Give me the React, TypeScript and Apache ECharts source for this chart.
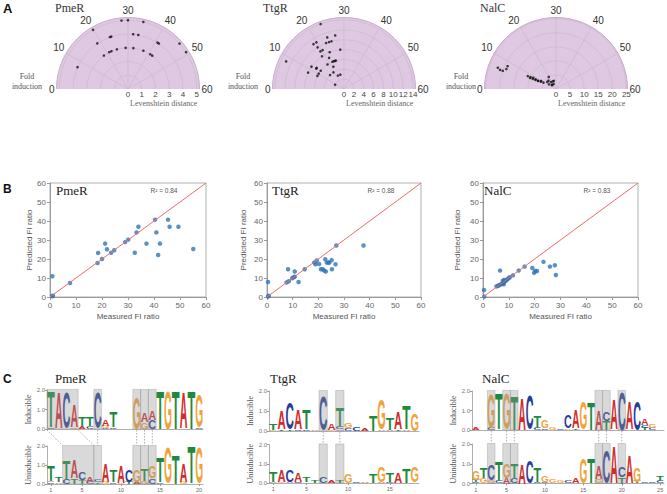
import React, { useEffect, useRef } from 'react';
import * as echarts from 'echarts';

const SERIF = '"Liberation Serif", "Times New Roman", serif';
const SANS = '"Liberation Sans", Arial, sans-serif';

// ---------- A: polar plots, [fold induction, Levenshtein distance]
const panelNames = ['PmeR', 'TtgR', 'NalC'];
const pmePolar = [[28.2, 5], [30, 5], [34.3, 5], [19.8, 5], [46.2, 5], [49.2, 5], [18.7, 4], [7.8, 4], [23.6, 4], [24.1, 4], [31.8, 4], [33.6, 4], [40.8, 4], [41.4, 4], [18.1, 3], [21, 3], [22.1, 3], [24.8, 3], [28.9, 3], [32.5, 3], [37.3, 3], [40.9, 3], [42, 3]];
const ttgPolar = [[23.4, 14], [8.5, 13], [26.9, 11], [24, 11], [19.8, 11], [18.6, 11], [22.9, 10], [24.1, 10], [25.1, 10], [19.2, 10], [19.3, 9], [20.4, 9], [28.2, 8], [22.9, 8], [18.7, 8], [21.5, 7], [24.1, 6], [23.3, 6], [24.7, 6], [22.3, 6], [18.7, 6], [11.5, 8], [12.1, 7], [12.6, 7], [8.2, 8], [12.7, 6], [10.4, 6], [8.7, 6], [21.5, 5], [19.2, 4], [15, 4], [21.9, 3], [25.2, 3], [8.6, 2]];
const nalPolar = [[6.7, 22], [6.3, 21], [6.3, 20], [7.3, 19], [8.4, 19], [8.2, 11], [7.7, 10], [7.8, 9], [8, 8], [8.2, 7], [8.1, 7], [8.7, 6], [9, 5], [16.1, 4], [19.7, 5], [17.8, 3], [22.1, 3], [11.3, 3], [14.3, 2], [21.7, 2], [9.5, 6], [8.5, 8], [8.8, 9], [13, 4], [25, 3], [16, 2], [8.4, 10]];
const polarData = [pmePolar, ttgPolar, nalPolar];
const foldRange = [0, 60];
const foldStep = 10;
const distMax = [5.2, 14.5, 25.4];
const distStep = [1, 2, 5];

// ---------- B: measured vs predicted FI ratio
const pmeFit = [[0.9, 10.9], [0.9, 0.4], [1.1, 0.7], [7.7, 7.4], [18.3, 17.9], [18.5, 23.2], [20, 20], [21.2, 28.1], [21.9, 25.1], [23.5, 23.3], [24.7, 24.6], [28.9, 28.9], [30.1, 30.2], [32.6, 23.3], [33.3, 34], [34, 37], [37.1, 28.1], [40.4, 40.7], [40.9, 34], [41.6, 22.1], [42.3, 28.1], [45.4, 40.7], [46, 37], [49.4, 37], [55.1, 25.3]];
const ttgFit = [[0.4, 7.9], [0.4, 0.2], [0.7, 0.7], [7.6, 7.6], [8.2, 14.6], [8.5, 8.3], [9.8, 9.9], [10.4, 10.4], [10.8, 10.7], [10.8, 13.4], [12.3, 7.9], [14.7, 14.6], [18.4, 18.1], [18.9, 17.2], [19.4, 19.2], [20.3, 17.4], [21, 14.6], [21.7, 14.6], [22.3, 13.9], [22.7, 19.9], [22.9, 13.4], [23.3, 18.1], [23.9, 18.1], [24.3, 18.1], [25.2, 19.4], [25.3, 14.6], [26.7, 17.2], [27, 27.1], [37.6, 27.1]];
const nalFit = [[0.4, 3.7], [0.5, 0.2], [6.6, 13.9], [5.2, 5.6], [5.7, 5.8], [6.2, 6.2], [6.7, 6.5], [7.2, 6.9], [7.6, 7.2], [8, 7.4], [7.7, 8.6], [8.2, 8.1], [8.6, 8.4], [9, 8.8], [9.4, 9.3], [9.9, 9.9], [10.4, 10.4], [11.6, 11.4], [8, 6.7], [8.2, 9], [13.8, 13.9], [16.1, 16], [19.1, 15.3], [19.8, 12.7], [20.2, 13.7], [20.9, 13.7], [23.4, 18.5], [25.9, 16], [27.8, 16.7], [28.2, 11.6]];
const fitData = [pmeFit, ttgFit, nalFit];
const r2Labels = ['R² = 0.84', 'R² = 0.88', 'R² = 0.83'];
const diagonal = [[0, 0], [60, 60]];
const fitRange = [0, 60];

// ---------- C: sequence logos, columns of [letter, bits] from bottom to top
type Col = [string, number][];
const pmeInducible: Col[] = [
  [['C', 0.05], ['T', 1.85]], [['A', 1.85]], [['C', 1.8]], [['G', 0.08], ['A', 1.15]], [['A', 0.12], ['T', 0.45]],
  [['C', 0.15], ['T', 0.45]], [['C', 1.85]], [['C', 0.05], ['G', 0.1], ['A', 0.3]], [['C', 0.08], ['T', 0.8]], [['A', 0.03]],
  [['C', 0.03]], [['G', 1.6]], [['G', 0.35], ['A', 0.5]], [['C', 0.45], ['A', 0.5]], [['T', 1.95]],
  [['G', 1.95]], [['T', 1.95]], [['A', 1.85]], [['T', 1.95]], [['C', 0.08], ['G', 1.7]],
];
const pmeUninducible: Col[] = [
  [['C', 0.08], ['A', 0.08], ['T', 0.85]], [['A', 0.08], ['T', 0.25]], [['C', 0.25], ['T', 0.95]], [['T', 0.3], ['A', 0.95]], [['T', 0.2], ['C', 0.4]],
  [['C', 0.1], ['A', 0.3]], [['T', 0.08], ['C', 0.15]], [['G', 0.1], ['A', 1.0]], [['C', 0.08], ['T', 0.6]], [['G', 0.05], ['A', 0.9]],
  [['T', 0.1], ['C', 0.65]], [['A', 0.1], ['G', 0.6]], [['G', 0.15], ['T', 0.6]], [['C', 0.3], ['G', 0.6]], [['C', 0.08], ['T', 1.35]],
  [['G', 1.85]], [['T', 1.5]], [['G', 0.1], ['A', 1.0]], [['T', 1.95]], [['G', 1.85]],
];
const ttgInducible: Col[] = [
  [['G', 0.05], ['T', 0.3]], [['T', 0.08], ['A', 0.95]], [['T', 0.08], ['C', 1.3]], [['C', 0.08], ['A', 1.0]], [['C', 0.08], ['T', 1.0]],
  [['A', 0.08]], [['C', 1.75]], [['G', 0.05], ['A', 0.3]], [['A', 0.08], ['C', 0.1], ['T', 1.0]], [['C', 0.12], ['G', 0.25]],
  [['C', 0.2]], [['A', 0.1]], [['T', 0.8]], [['A', 0.08], ['G', 1.5]], [['A', 0.05], ['T', 0.6]],
  [['T', 0.08], ['A', 0.85]], [['A', 0.08], ['T', 1.2]], [['G', 0.85]],
];
const ttgUninducible: Col[] = [
  [['A', 0.05], ['T', 0.55]], [['G', 0.05], ['A', 0.6]], [['A', 0.05], ['C', 0.6]], [['C', 0.05], ['A', 0.45]], [['A', 0.03], ['T', 0.3]],
  [['T', 0.15]], [['C', 0.35]], [['A', 0.12]], [['T', 0.1]], [['G', 0.45]],
  [['C', 0.04]], [['A', 0.04]], [['T', 0.5]], [['A', 0.05], ['G', 0.85]], [['C', 0.05], ['T', 0.45]],
  [['A', 0.55]], [['T', 0.75]], [['G', 0.8]],
];
const nalInducible: Col[] = [
  [['A', 0.1]], [['C', 0.03]], [['C', 0.1], ['G', 1.75]], [['T', 1.8]], [['G', 1.85]],
  [['T', 1.75]], [['A', 1.65]], [['C', 1.75]], [['C', 0.1], ['T', 0.6]], [['C', 0.08], ['G', 0.4]],
  [['G', 0.12]], [['C', 0.05]], [['G', 0.08], ['C', 0.7]], [['T', 0.08], ['A', 0.95]], [['G', 1.4]],
  [['T', 1.4]], [['A', 1.0]], [['T', 0.45], ['C', 0.5]], [['A', 1.55]], [['C', 1.95]],
  [['A', 1.4]], [['C', 1.5]], [['T', 0.1], ['C', 0.15], ['A', 0.35]], [['C', 0.1], ['G', 0.2]], [['A', 0.02]],
];
const nalUninducible: Col[] = [
  [['C', 0.08], ['T', 0.1], ['G', 0.45]], [['G', 0.25], ['T', 0.5]], [['G', 0.15], ['C', 0.8]], [['C', 0.1], ['T', 1.0]], [['A', 0.3], ['G', 0.75]],
  [['C', 0.25], ['T', 0.75]], [['A', 1.0]], [['C', 1.15]], [['C', 0.05], ['T', 0.75]], [['C', 0.05], ['G', 0.3]],
  [['G', 0.2]], [['G', 0.15]], [['C', 0.1]], [['A', 0.25]], [['G', 1.3]],
  [['T', 1.25]], [['G', 0.2], ['A', 0.65]], [['C', 1.7]], [['A', 1.9]], [['T', 0.3], ['C', 0.55]],
  [['A', 1.4]], [['T', 0.1], ['G', 0.75]], [['C', 0.05]], [['C', 0.08]], [['C', 0.1], ['T', 0.25]],
];
const pmeTopBoxes = [[1, 4], [7, 7], [12, 12], [13, 13], [14, 14]];
const pmeBottomBoxes = [[3, 6], [7, 7], [12, 12], [13, 13], [14, 14]];
const pmeLinks = [[0.5, 2.5], [4.5, 6.5], [7, 7], [12, 12], [13, 13], [14, 14]];
const ttgBoxes = [[7, 7], [9, 9]];
const ttgLinks = [[7, 7], [9, 9]];
const nalBoxes = [[3, 3], [5, 5], [6, 6], [17, 17], [18, 18], [20, 20]];
const nalLinks = [[3, 3], [5, 5], [6, 6], [17, 17], [18, 18], [20, 20]];
const pmeTicks = [1, 5, 10, 15, 20];
const ttgTicks = [1, 5, 10, 15];
const nalTicks = [1, 5, 10, 15, 20, 25];
const bitsMax = 2;
const bitsStep = 1;

const logoSets = [
  { name: 'PmeR', top: pmeInducible, bottom: pmeUninducible, topBoxes: pmeTopBoxes, bottomBoxes: pmeBottomBoxes, links: pmeLinks, ticks: pmeTicks },
  { name: 'TtgR', top: ttgInducible, bottom: ttgUninducible, topBoxes: ttgBoxes, bottomBoxes: ttgBoxes, links: ttgLinks, ticks: ttgTicks },
  { name: 'NalC', top: nalInducible, bottom: nalUninducible, topBoxes: nalBoxes, bottomBoxes: nalBoxes, links: nalLinks, ticks: nalTicks },
];

const LETTERS = 'ACGT';
const LETTER_COLORS: Record<string, string> = { A: '#d42a2a', C: '#273f98', G: '#f1a33a', T: '#1d8a3d' };
const LETTER_ADV: Record<string, number> = { A: 0.72, C: 0.7, G: 0.75, T: 0.6 };

// ---------- layout (pixels)
const polarCenters = [[128, 89], [344, 89], [556, 89]];
const polarR = 71.5;
const foldLabelX = [27, 243, 461];
const polarTitleX = [55, 263, 480];
const fitGrids = [
  { left: 50, top: 183, width: 156, height: 114 },
  { left: 267, top: 183, width: 154, height: 114 },
  { left: 483, top: 183, width: 155, height: 114 },
];
const fitYNameGap = [16, 20, 22];
const fitTitleX = [56, 272, 484];
const r2X = [164, 381, 597];
const logoGrids = [
  { left: 47, top: 390, width: 156, height: 39 },
  { left: 47, top: 446, width: 156, height: 38 },
  { left: 269, top: 391, width: 150, height: 40 },
  { left: 269, top: 444.5, width: 150, height: 38.5 },
  { left: 472, top: 391, width: 192, height: 39 },
  { left: 472, top: 444, width: 192, height: 39.5 },
];
const logoNameGap = [11, 13, 11.5];
const logoTitleX = [55, 270, 482];

function stackLetters(columns: Col[]) {
  const out: number[][] = [];
  columns.forEach((col, i) => {
    let base = 0;
    col.forEach(([ch, h]) => {
      out.push([i, base, base + h, LETTERS.indexOf(ch)]);
      base += h;
    });
  });
  return out;
}

// polar frame items: [radius, angle, kind]  kind 0 fill, 1 ring, 2 outer ring, 3 spoke
function polarFrame(step: number, max: number) {
  const out: number[][] = [[max, 0, 0]];
  for (let v = step; v < max - 1e-9; v += step) out.push([v, 0, 1]);
  for (let a = foldRange[0] + foldStep; a < foldRange[1]; a += foldStep) out.push([max, a, 3]);
  out.push([max, 0, 2]);
  return out;
}

const renderFrame = (params: any, api: any) => {
  const cs = params.coordSys;
  const kind = api.value(2);
  const p = api.coord([api.value(0), api.value(1)]);
  const r = Math.hypot(p[0] - cs.cx, p[1] - cs.cy);
  if (kind === 0) {
    return {
      type: 'sector',
      shape: { cx: cs.cx, cy: cs.cy, r0: 0, r, startAngle: Math.PI, endAngle: 2 * Math.PI, clockwise: true },
      style: { fill: '#dfc8e1', stroke: null },
    };
  }
  if (kind === 3) {
    return {
      type: 'line',
      shape: { x1: cs.cx, y1: cs.cy, x2: p[0], y2: p[1] },
      style: { stroke: '#cdb7d1', lineWidth: 0.7 },
    };
  }
  return {
    type: 'arc',
    shape: { cx: cs.cx, cy: cs.cy, r, startAngle: Math.PI, endAngle: 2 * Math.PI, clockwise: true },
    style: { stroke: kind === 2 ? '#c6adc9' : '#cdb7d1', fill: null, lineWidth: kind === 2 ? 1 : 0.7 },
  };
};

const renderLetter = (_p: any, api: any) => {
  const idx = api.value(0);
  const y0 = api.value(1);
  const y1 = api.value(2);
  const ch = LETTERS[api.value(3)];
  const pb = api.coord([idx, y0]);
  const pt = api.coord([idx, y1]);
  const h = pb[1] - pt[1];
  if (h < 0.7) return null;
  const bw = api.size([1, 0])[0];
  const F = 40;
  return {
    type: 'text',
    x: pb[0],
    y: (pb[1] + pt[1]) / 2,
    scaleX: (bw * 0.98) / (LETTER_ADV[ch] * F),
    scaleY: h / (0.716 * F),
    style: {
      text: ch,
      font: `bold ${F}px ${SANS}`,
      fill: LETTER_COLORS[ch],
      align: 'center',
      verticalAlign: 'middle',
      textAlign: 'center',
      textVerticalAlign: 'middle',
    },
  };
};

const renderBox = (_p: any, api: any) => {
  const a = api.value(0);
  const b = api.value(1);
  const bw = api.size([1, 0])[0];
  const p0 = api.coord([a, api.value(2)]);
  const p1 = api.coord([b, api.value(3)]);
  return {
    type: 'rect',
    shape: { x: p0[0] - bw / 2, y: p1[1], width: p1[0] - p0[0] + bw, height: p0[1] - p1[1] },
    style: { fill: 'rgba(150,150,150,0.36)', stroke: 'rgba(130,130,130,0.5)', lineWidth: 0.6 },
  };
};

const stepFormatter = (step: number) => (v: number) =>
  Math.abs(v / step - Math.round(v / step)) < 1e-6 ? String(Math.round(v)) : '';

function label(text: string, left: number, top: number, size: number, color: string, family: string, align = 'left', weight = 'normal') {
  return {
    text, left, top, padding: 0, itemGap: 0,
    textAlign: align, textVerticalAlign: 'middle',
    textStyle: { fontSize: size, color, fontFamily: family, fontWeight: weight },
    z: 10,
  };
}

export default function App() {
  const ref = useRef<HTMLDivElement>(null);

  useEffect(() => {
    const chart = echarts.init(ref.current!, null, { renderer: 'svg' });

    const grids: any[] = [];
    const xAxes: any[] = [];
    const yAxes: any[] = [];
    const series: any[] = [];

    // helper grids for radial labels (0..2)
    polarCenters.forEach((c, i) => {
      grids.push({ left: c[0], top: c[1] - 1, width: polarR, height: 1 });
      xAxes.push({
        gridIndex: i, type: 'value', min: 0, max: distMax[i], interval: distStep[i],
        axisLine: { show: false }, axisTick: { show: false }, splitLine: { show: false },
        axisLabel: { fontSize: 8, color: '#444', margin: 1, fontFamily: SANS, formatter: stepFormatter(distStep[i]) },
        name: 'Levenshtein distance', nameLocation: 'middle', nameGap: 10,
        nameTextStyle: { fontFamily: SERIF, fontSize: 8, color: '#666' },
      });
      yAxes.push({ gridIndex: i, type: 'value', show: false });
    });

    // B grids (3..5)
    fitGrids.forEach((g, i) => {
      const gi = 3 + i;
      grids.push({ ...g, show: true, borderColor: '#b0b0b0', borderWidth: 1, backgroundColor: 'transparent' });
      const common = {
        gridIndex: gi, type: 'value', min: fitRange[0], max: fitRange[1], interval: 10,
        axisLine: { show: true, lineStyle: { color: '#9a9a9a', width: 1 } },
        axisTick: { show: true, length: 3, lineStyle: { color: '#9a9a9a' } },
        axisLabel: { fontSize: 8, color: '#666', margin: 4, fontFamily: SANS },
        splitLine: { show: false },
        nameLocation: 'middle',
        nameTextStyle: { fontSize: 8, color: '#555', fontFamily: SANS },
      };
      xAxes.push({ ...common, name: 'Measured FI ratio', nameGap: 15 });
      yAxes.push({ ...common, name: 'Predicted FI ratio', nameGap: fitYNameGap[i] });
      series.push({
        type: 'scatter', xAxisIndex: gi, yAxisIndex: gi, data: fitData[i], symbolSize: 4.5,
        itemStyle: { color: '#2e75b6' }, z: 2,
      });
      series.push({
        type: 'line', xAxisIndex: gi, yAxisIndex: gi, data: diagonal, showSymbol: false, symbol: 'none',
        lineStyle: { color: '#ee6b6b', width: 1 }, z: 3, silent: true,
      });
    });

    // C logo grids (6..11)
    logoSets.forEach((set, k) => {
      [0, 1].forEach((row) => {
        const gi = 6 + 2 * k + row;
        const cols = row === 0 ? set.top : set.bottom;
        const boxes = row === 0 ? set.topBoxes : set.bottomBoxes;
        grids.push({ ...logoGrids[2 * k + row] });
        const showFn = (index: number) => set.ticks.includes(index + 1);
        xAxes.push({
          gridIndex: gi, type: 'category', data: cols.map((_, j) => String(j + 1)), boundaryGap: true,
          axisLine: { show: true, lineStyle: { color: '#999', width: 0.8 } },
          axisTick: { show: row === 1, interval: showFn, alignWithLabel: true, length: 2, lineStyle: { color: '#999' } },
          axisLabel: { show: row === 1, interval: showFn, fontSize: 5.5, color: '#666', margin: 3, fontFamily: SANS },
          splitLine: { show: false },
        });
        yAxes.push({
          gridIndex: gi, type: 'value', min: 0, max: bitsMax, interval: bitsStep,
          axisLine: { show: true, lineStyle: { color: '#999', width: 0.8 } },
          axisTick: { show: true, length: 2, lineStyle: { color: '#999' } },
          axisLabel: { fontSize: 6, color: '#777', margin: 2, fontFamily: SANS, formatter: (v: number) => v.toFixed(1) },
          splitLine: { show: false },
          name: row === 0 ? 'Inducible' : 'Uninducible', nameLocation: 'middle', nameGap: logoNameGap[k],
          nameTextStyle: { fontFamily: SERIF, fontSize: 8, color: '#555' },
        });
        series.push({
          type: 'custom', xAxisIndex: gi, yAxisIndex: gi, renderItem: renderLetter,
          data: stackLetters(cols), encode: { x: 0, y: [1, 2] }, z: 2, silent: true, animation: false,
        });
        series.push({
          type: 'custom', xAxisIndex: gi, yAxisIndex: gi, renderItem: renderBox,
          data: boxes.map(([a, b]) => [a - 1, b - 1, 0, bitsMax * 1.015]), encode: { x: [0, 1], y: [2, 3] },
          z: 4, silent: true, animation: false,
        });
      });
    });

    // polar frame and scatter
    polarData.forEach((d, i) => {
      series.push({
        type: 'custom', coordinateSystem: 'polar', polarIndex: i, renderItem: renderFrame,
        data: polarFrame(distStep[i], distMax[i]), encode: { radius: 0, angle: 1 },
        z: 1, silent: true, animation: false,
      });
      series.push({
        type: 'scatter', coordinateSystem: 'polar', polarIndex: i,
        data: d.map(([fold, dist]) => [dist, fold]), symbolSize: 2.6,
        itemStyle: { color: '#111' }, z: 3,
      });
    });

    const titles: any[] = [
      label('A', 3, 8, 13, '#111', SANS, 'left', 'bold'),
      label('B', 3, 189, 12, '#111', SANS, 'left', 'bold'),
      label('C', 3, 379, 12, '#111', SANS, 'left', 'bold'),
    ];
    panelNames.forEach((n, i) => {
      titles.push(label(n, polarTitleX[i], 8, 12, '#333', SERIF));
      titles.push(label('Fold', foldLabelX[i], 76, 8, '#555', SERIF, 'center'));
      titles.push(label('induction', foldLabelX[i], 86, 8, '#555', SERIF, 'center'));
      titles.push(label(n, fitTitleX[i], 190, 13, '#222', SERIF));
      titles.push(label(r2Labels[i], r2X[i], 190, 6.5, '#555', SANS, 'center'));
      titles.push(label(n, logoTitleX[i], 378, 13, '#222', SERIF));
    });

    const option: any = {
      animation: false,
      textStyle: { fontFamily: SANS },
      title: titles,
      polar: polarCenters.map((c) => ({ center: [c[0], c[1]], radius: polarR })),
      angleAxis: polarCenters.map((_, i) => ({
        polarIndex: i, type: 'value', min: foldRange[0], max: foldRange[1], interval: foldStep,
        startAngle: 180, endAngle: 0, clockwise: true,
        axisLine: { show: false },
        axisTick: { show: false },
        axisLabel: { fontSize: 10, color: '#333', margin: 2, fontFamily: SANS },
        splitLine: { show: false },
        splitArea: { show: false },
      })),
      radiusAxis: polarCenters.map((_, i) => ({
        polarIndex: i, type: 'value', min: 0, max: distMax[i], interval: distStep[i],
        axisLine: { show: false }, axisTick: { show: false }, axisLabel: { show: false },
        splitLine: { show: false },
        splitArea: { show: false },
      })),
      grid: grids,
      xAxis: xAxes,
      yAxis: yAxes,
      series,
    };
    chart.setOption(option);

    // dotted connectors between inducible and uninducible logos
    const graphics: any[] = [];
    logoSets.forEach((set, k) => {
      const topI = 6 + 2 * k;
      const botI = topI + 1;
      const c0 = chart.convertToPixel({ xAxisIndex: topI } as any, '1') as any as number;
      const c1 = chart.convertToPixel({ xAxisIndex: topI } as any, '2') as any as number;
      const b0 = chart.convertToPixel({ xAxisIndex: botI } as any, '1') as any as number;
      const bw = c1 - c0;
      const yTop = (chart.convertToPixel({ yAxisIndex: topI } as any, 0) as any as number) + 1;
      const yBot = chart.convertToPixel({ yAxisIndex: botI } as any, bitsMax * 1.015) as any as number;
      set.links.forEach(([p, q]) => {
        graphics.push({
          type: 'line', silent: true, z: 10,
          shape: { x1: c0 + (p - 1) * bw, y1: yTop, x2: b0 + (q - 1) * bw, y2: yBot },
          style: { stroke: '#8a8a8a', lineWidth: 0.7, lineDash: [1.5, 1.5] },
        });
      });
    });
    chart.setOption({ graphic: graphics });

    return () => chart.dispose();
  }, []);

  return (
    <div
      ref={ref}
      style={{ position: 'absolute', left: 0, top: 0, width: 667, height: 494, background: '#fff' }}
    />
  );
}
